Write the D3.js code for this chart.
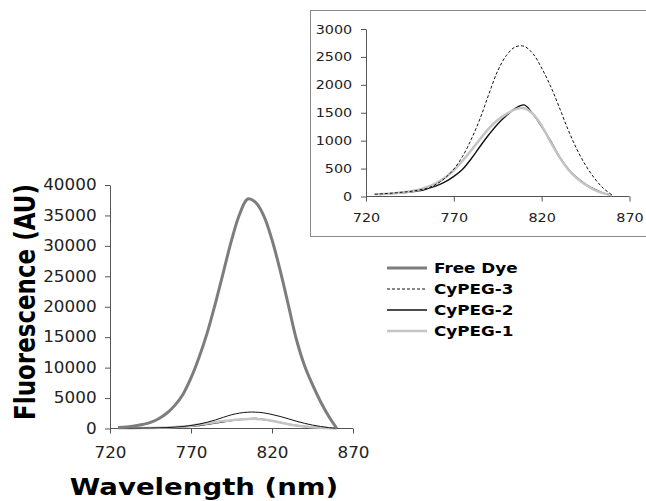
<!DOCTYPE html>
<html>
<head>
<meta charset="utf-8">
<script src="https://cdn.jsdelivr.net/npm/d3@7"></script>
<style>
  body { margin: 0; background: #fff; }
  svg { display: block; font-family: "DejaVu Sans", Verdana, sans-serif; }
</style>
</head>
<body>
<div id="chart"></div>
<script>
// Wavelength samples (nm) shared by every series.
const wavelengths = [725, 730, 735, 740, 745, 750, 755, 760, 765, 770, 775, 780, 785, 790,
                     795, 800, 805, 810, 815, 820, 825, 830, 835, 840, 845, 850, 855, 860];

// Fluorescence (AU).
const free_dye = [150, 250, 400, 650, 1000, 1600, 2500, 3800, 5600, 8300, 11700, 15700, 20500, 25700,
                  30900, 35200, 37700, 37100, 34900, 31000, 26000, 20400, 14700, 10400, 7200, 4400, 2000, 0];
const cypeg3 = [40, 50, 60, 75, 90, 115, 150, 220, 330, 490, 720, 1030, 1400, 1840,
                2250, 2530, 2680, 2690, 2560, 2300, 1980, 1600, 1200, 850, 560, 330, 150, 30];
const cypeg2 = [40, 45, 55, 65, 80, 100, 140, 190, 260, 360, 490, 680, 900, 1110,
                1300, 1450, 1580, 1640, 1480, 1250, 1000, 720, 500, 340, 220, 130, 60, 20];
const cypeg1 = [40, 45, 55, 70, 90, 120, 170, 240, 340, 470, 640, 830, 1030, 1220,
                1370, 1480, 1560, 1580, 1480, 1270, 980, 710, 490, 330, 210, 120, 60, 20];

const x_ticks = [720, 770, 820, 870];
const main_y_ticks = [0, 5000, 10000, 15000, 20000, 25000, 30000, 35000, 40000];
const inset_y_ticks = [0, 500, 1000, 1500, 2000, 2500, 3000];

// Draw order matters: the light grey sits on top of CyPEG-2 in the main plot.
const series = [
  { name: 'CyPEG-2', values: cypeg2, color: '#111', width: 1.4, dash: null, inset: true },
  { name: 'CyPEG-1', values: cypeg1, color: '#c4c4c4', width: 2.5, dash: null, inset: true },
  { name: 'CyPEG-3', values: cypeg3, color: '#111', width: 1, dash: '3,2', inset: true },
  { name: 'Free Dye', values: free_dye, color: '#7d7d7d', width: 3, dash: null, inset: false }
];
const legend_order = [ 'Free Dye', 'CyPEG-3', 'CyPEG-2', 'CyPEG-1' ];

const stretch = 'scale(1.2,1)';

const svg = d3.select('#chart').append('svg')
  .attr('width', 646)
  .attr('height', 501);

// Draws one set of axes and lines into the given area.
function draw_plot(opts){
  const x = d3.scaleLinear().domain([720, 870]).range([opts.left, opts.right]);
  const y = d3.scaleLinear().domain([0, opts.ymax]).range([opts.bottom, opts.top]);

  const line = d3.line()
    .x(function(d){ return x(d[0]); })
    .y(function(d){ return y(d[1]); })
    .curve(d3.curveCatmullRom.alpha(0.5));

  const xg = svg.append('g')
    .attr('transform', 'translate(0,' + opts.bottom + ')')
    .call(d3.axisBottom(x).tickValues(x_ticks).tickSize(5).tickSizeOuter(0).tickPadding(opts.xpad));
  const yg = svg.append('g')
    .attr('transform', 'translate(' + opts.left + ',0)')
    .call(d3.axisLeft(y).tickValues(opts.yticks).tickSize(5).tickSizeOuter(0).tickPadding(opts.ypad).tickFormat(d3.format('d')));

  [xg, yg].forEach(function(g){
    g.attr('font-size', opts.font).attr('font-family', '"DejaVu Sans", Verdana, sans-serif');
    g.select('.domain').attr('stroke', '#555');
    g.selectAll('.tick line').attr('stroke', '#555');
    g.selectAll('.tick text')
      .attr('fill', '#222')
      .attr('font-size', opts.font)
      .attr('transform', 'scale(' + opts.stretch + ',1)');
  });
  xg.select('.domain').attr('d', 'M' + opts.left + ',0H' + opts.right);

  series.filter(function(s){ return opts.all || s.inset; }).forEach(function(s){
    svg.append('path')
      .datum(d3.zip(wavelengths, s.values))
      .attr('fill', 'none')
      .attr('stroke', s.color)
      .attr('stroke-width', s.width)
      // At the main plot's scale the dashed series reads as a solid line.
      .attr('stroke-dasharray', opts.all ? null : s.dash)
      .attr('stroke-linejoin', 'round')
      .attr('d', line);
  });
}

// Inset frame.
svg.append('rect')
  .attr('x', 310.5).attr('y', 10.5)
  .attr('width', 360).attr('height', 226)
  .attr('fill', '#fff')
  .attr('stroke', '#8a8a8a');

// Main plot.
draw_plot({ left: 110, right: 353, top: 185, bottom: 428.5, ymax: 40000,
            yticks: main_y_ticks, font: 15, stretch: 1.12, xpad: 14, ypad: 7, all: true });

// Inset plot.
draw_plot({ left: 366, right: 629.5, top: 29, bottom: 196.5, ymax: 3000,
            yticks: inset_y_ticks, font: 12.5, stretch: 1.15, xpad: 12, ypad: 7, all: false });

// Axis titles.
svg.append('text')
  .attr('transform', 'translate(204,495) ' + stretch)
  .attr('text-anchor', 'middle')
  .style('font-size', '23px')
  .style('font-weight', 'bold')
  .text('Wavelength (nm)');
svg.append('text')
  .attr('transform', 'translate(35,302) ' + stretch + ' rotate(-90)')
  .attr('text-anchor', 'middle')
  .style('font-size', '23px')
  .style('font-weight', 'bold')
  .text('Fluorescence (AU)');

// Legend.
const legend = svg.append('g');
legend_order.forEach(function(name, i){
  const s = series.find(function(d){ return d.name === name; });
  const ly = 268 + i * 21;
  legend.append('line')
    .attr('x1', 387).attr('x2', 427)
    .attr('y1', ly).attr('y2', ly)
    .attr('stroke', s.color)
    .attr('stroke-width', s.width)
    .attr('stroke-dasharray', s.dash);
  legend.append('text')
    .attr('transform', 'translate(434,' + (ly + 5) + ') ' + stretch)
    .style('font-size', '14px')
    .style('font-weight', 'bold')
    .text(name);
});
</script>
</body>
</html>
